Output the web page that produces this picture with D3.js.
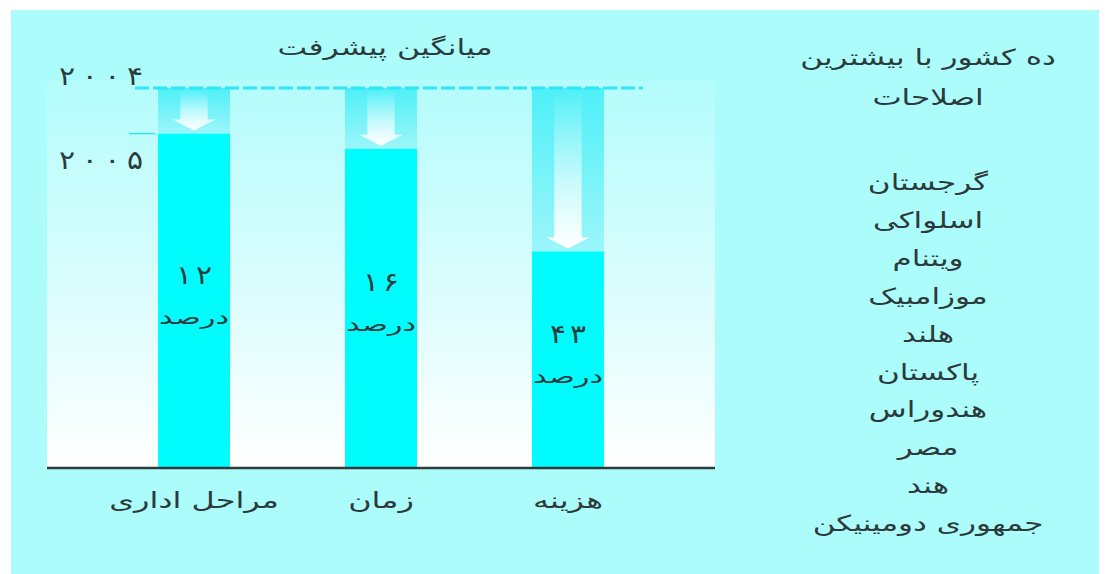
<!DOCTYPE html>
<html>
<head>
<meta charset="utf-8">
<script src="https://cdn.jsdelivr.net/npm/d3@7"></script>
<style>
  html, body { margin: 0; padding: 0; background: #ffffff; }
  svg { display: block; }
  text { font-family: "DejaVu Sans", sans-serif; fill: #2b3a3a; }
</style>
</head>
<body>
<svg id="chart" width="1105" height="574"></svg>
<script>
// Categories and average improvement (percent reduction from 2004 to 2005)
const categories = ["مراحل اداری", "زمان", "هزینه"];
const improvement = [12, 16, 43];
const baseline = 100;               // 2004 level
const yearLabels = ["۲۰۰۴", "۲۰۰۵"];
const chartTitle = "میانگین پیشرفت";
const unitLabel = "درصد";
const listTitle = ["ده کشور با بیشترین", "اصلاحات"];
const countries = [
  "گرجستان", "اسلواکی", "ویتنام", "موزامبیک", "هلند",
  "پاکستان", "هندوراس", "مصر", "هند", "جمهوری دومینیکن"
];

const toFa = s => String(s).replace(/\d/g, d => "۰۱۲۳۴۵۶۷۸۹"[+d]);

const svg = d3.select("#chart");
const defs = svg.append("defs");

// wide Persian lettering: stretch text horizontally around its anchor
function label(parent, x, y, txt, size, sx) {
  return parent.append("text")
    .attr("transform", `translate(${x},${y}) scale(${sx},1)`)
    .attr("text-anchor", "middle").attr("font-size", size).text(txt);
}

// spaced-out digits, one glyph per text element, centred on x
function digits(parent, x, y, txt, size, gap, sx) {
  const chars = Array.from(txt);
  const x0 = x - gap * (chars.length - 1) / 2;
  chars.forEach((c, i) => label(parent, x0 + i * gap, y, c, size, sx));
}

// page panel
svg.append("rect").attr("x", 11).attr("y", 10).attr("width", 1088).attr("height", 564)
  .attr("fill", "#adfcfc");

const plot = { left: 47, right: 715, top: 80, bottom: 468 };

const x = d3.scaleBand().domain(categories)
  .range([plot.left, plot.right]).paddingInner(0.615).paddingOuter(0.594);
const y = d3.scaleLinear().domain([0, baseline]).range([plot.bottom, 88]);

// plot background gradient
const bg = defs.append("linearGradient").attr("id", "plotBg")
  .attr("x1", 0).attr("y1", 0).attr("x2", 0).attr("y2", 1);
bg.append("stop").attr("offset", "0%").attr("stop-color", "#b4fcfc");
bg.append("stop").attr("offset", "55%").attr("stop-color", "#dcfdfd");
bg.append("stop").attr("offset", "100%").attr("stop-color", "#ffffff");
svg.append("rect").attr("x", plot.left).attr("y", plot.top)
  .attr("width", plot.right - plot.left).attr("height", plot.bottom - plot.top)
  .attr("fill", "url(#plotBg)");

// column behind each arrow
const col = defs.append("linearGradient").attr("id", "colGrad")
  .attr("x1", 0).attr("y1", 0).attr("x2", 0).attr("y2", 1);
col.append("stop").attr("offset", "0%").attr("stop-color", "#4ef0f8");
col.append("stop").attr("offset", "100%").attr("stop-color", "#9cf6fa");

// arrow shaft fading to white
const shaft = defs.append("linearGradient").attr("id", "shaftGrad")
  .attr("x1", 0).attr("y1", 0).attr("x2", 0).attr("y2", 1);
shaft.append("stop").attr("offset", "0%").attr("stop-color", "#ffffff").attr("stop-opacity", 0);
shaft.append("stop").attr("offset", "100%").attr("stop-color", "#ffffff").attr("stop-opacity", 1);

const data = categories.map((c, i) => ({ cat: c, pct: improvement[i], value: baseline - improvement[i] }));

// arrow columns from 2004 level down to each bar
const arrows = svg.append("g").selectAll("g").data(data).join("g");
arrows.append("rect")
  .attr("x", d => x(d.cat)).attr("y", y(baseline))
  .attr("width", x.bandwidth()).attr("height", d => y(d.value) - y(baseline))
  .attr("fill", "url(#colGrad)");
arrows.append("path")
  .attr("fill", "url(#shaftGrad)")
  .attr("d", d => {
    const cx = x(d.cat) + x.bandwidth() / 2;
    const top = y(baseline) + 2, tip = y(d.value) - 3;
    const sw = x.bandwidth() * 0.19, hw = x.bandwidth() * 0.3, hh = 11;
    return `M${cx - sw},${top} L${cx + sw},${top} L${cx + sw},${tip - hh} L${cx + hw},${tip - hh}
            L${cx},${tip} L${cx - hw},${tip - hh} L${cx - sw},${tip - hh} Z`;
  });

// bars (2005 level)
svg.append("g").selectAll("rect").data(data).join("rect")
  .attr("x", d => x(d.cat)).attr("y", d => y(d.value))
  .attr("width", x.bandwidth()).attr("height", d => y(0) - y(d.value))
  .attr("fill", "#00fcfc");

// 2004 dashed reference line
svg.append("line")
  .attr("x1", 135).attr("x2", 643).attr("y1", y(baseline)).attr("y2", y(baseline))
  .attr("stroke", "#2ee6f4").attr("stroke-width", 3).attr("stroke-dasharray", "14,4");

// short marker at the first bar's 2005 level
svg.append("line")
  .attr("x1", 129).attr("x2", 155)
  .attr("y1", y(data[0].value)).attr("y2", y(data[0].value))
  .attr("stroke", "#2ee6f4").attr("stroke-width", 1.5);

// year labels
digits(svg, 101, y(baseline) - 3, yearLabels[0], 26, 22.7, 1.15);
digits(svg, 101, y(data[0].value) + 35, yearLabels[1], 26, 22.7, 1.15);

// value labels centred within each bar
const mid = d => (y(d.value) + y(0)) / 2;
const vals = svg.append("g");
data.forEach(d => {
  const cx = x(d.cat) + x.bandwidth() / 2;
  digits(vals, cx, mid(d) - 17, toFa(d.pct), 26, 20, 1.15);
  label(vals, cx, mid(d) + 23, unitLabel, 19, 1.6);
});

// x axis
const xAxis = svg.append("g").attr("transform", `translate(0,${y(0)})`)
  .call(d3.axisBottom(x).tickSize(0).tickPadding(0));
xAxis.select(".domain").attr("stroke", "#2f3b3b").attr("stroke-width", 2.5)
  .attr("d", `M${plot.left},0H${plot.right}`);
xAxis.selectAll(".tick text")
  .attr("font-size", 22).attr("fill", "#2b3a3a")
  .attr("font-family", "DejaVu Sans, sans-serif")
  .attr("y", 0).attr("dy", 0)
  .attr("transform", "translate(0,40) scale(1.45,1)");

// chart title
label(svg, 385, 55, chartTitle, 22, 1.43);

// list of countries
const listX = 928;
listTitle.forEach((t, i) => label(svg, listX, 65 + i * 40, t, 22, 1.41));
countries.forEach((t, i) => label(svg, listX, 190 + i * 37.9, t, 22, 1.41));
</script>
</body>
</html>
